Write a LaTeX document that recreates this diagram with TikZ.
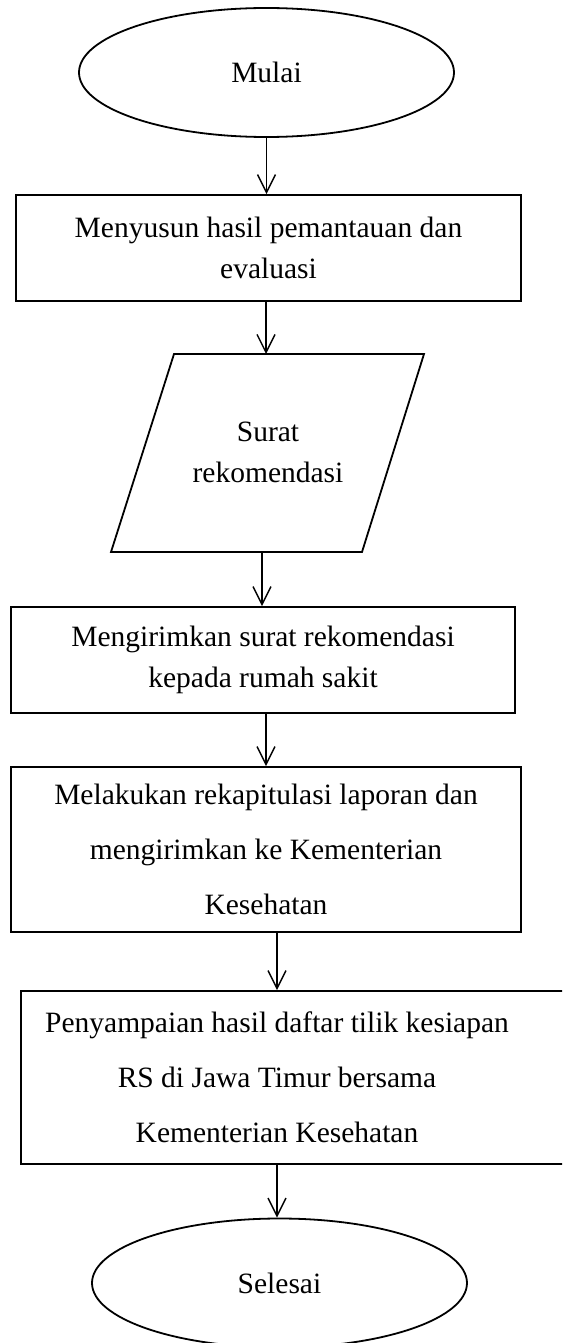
\documentclass[tikz,border=0pt]{standalone}
\usepackage{fontspec}
\setmainfont{Liberation Serif}
\usetikzlibrary{arrows.meta,shapes.geometric}
\begin{document}
\begin{tikzpicture}[x=1pt,y=-1pt,
  line width=1.8pt,
  box/.style={draw, rectangle, inner sep=0pt, align=center},
  single/.style={font=\fontsize{29.5}{41}\selectfont},
  wide/.style={font=\fontsize{29.5}{55}\selectfont},
  txt/.style={inner sep=0pt, align=center},
  term/.style={draw, ellipse, inner sep=0pt, minimum width=375pt, minimum height=129pt, font=\fontsize{29.5}{34}\selectfont},
  arr/.style={-{Straight Barb[length=18pt,width=18pt,line width=1.4pt]}, line width=1.4pt}]
\useasboundingbox (0,0) rectangle (562,1343);
\clip (0,0) rectangle (562,1343);

\node[term] (start) at (266.5,72.5) {Mulai};

\node[box, single, minimum width=505pt, minimum height=106pt] (b1) at (268.5,248) {Menyusun hasil pemantauan dan\\evaluasi};

\coordinate (ptl) at (174,354);
\coordinate (ptr) at (424,354);
\coordinate (pbr) at (362,552);
\coordinate (pbl) at (111,552);
\draw (ptl) -- (ptr) -- (pbr) -- (pbl) -- cycle;
\node[txt, single] (par) at (268,452) {Surat\\rekomendasi};
\coordinate (ptop) at (266,354);
\coordinate (pbot) at (262,552);

\node[box, single, minimum width=504pt, minimum height=106pt] (b3) at (263,660) {Mengirimkan surat rekomendasi\\kepada rumah sakit};

\node[box, wide, minimum width=510pt, minimum height=165pt] (b4) at (266,849.5) {Melakukan rekapitulasi laporan dan\\mengirimkan ke Kementerian\\Kesehatan};

\node[box, minimum width=560pt, minimum height=173pt] (b5) at (301,1077.5) {};
\node[txt, wide] (t5) at (277,1077.5) {Penyampaian hasil daftar tilik kesiapan\\RS di Jawa Timur bersama\\Kementerian Kesehatan};

\node[term] (end) at (279.5,1283) {Selesai};

\draw[arr] (start.south) -- (start.south |- b1.north);
\draw[arr] (b1.south -| ptop) -- (ptop);
\draw[arr] (pbot) -- (pbot |- b3.north);
\draw[arr] (b3.south -| b4.center) -- (b4.north);
\draw[arr] (b4.south -| t5) -- (t5 |- b5.north);
\draw[arr] (b5.south -| t5) -- (t5 |- end.north);
\end{tikzpicture}
\end{document}
